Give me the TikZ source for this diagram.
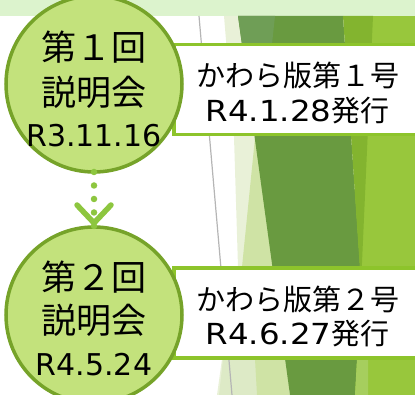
\documentclass[tikz,border=0pt]{standalone}
\usepackage{fontspec}
\setmainfont{Noto Sans CJK JP}
\newfontfamily\latinf{DejaVu Sans}
\usetikzlibrary{calc}
\definecolor{bandc}{HTML}{DCF3CD}
\definecolor{circfill}{HTML}{C3E27C}
\definecolor{circline}{HTML}{76A329}
\definecolor{boxline}{HTML}{8DC42B}
\definecolor{chevc}{HTML}{8DC63F}
\definecolor{bgdark}{HTML}{699A40}
\definecolor{bgdarkl}{HTML}{6F9E56}
\definecolor{bgmed}{HTML}{83B42F}
\definecolor{bglight}{HTML}{98C73C}
\definecolor{bgpale}{HTML}{E9F1D8}
\definecolor{bgpaleb}{HTML}{CFE3A5}
\definecolor{bgpalec}{HTML}{DDEAC6}
\definecolor{bglime}{HTML}{A6CE5E}
\definecolor{grayline}{HTML}{B5B5B5}
\tikzset{
  circbox/.style={circle, draw=circline, fill=circfill, line width=3.5pt, minimum size=176pt, inner sep=0pt, outer sep=0pt},
  issuebox/.style={rectangle, draw=boxline, fill=white, line width=3.5pt, minimum width=247pt, minimum height=90pt, inner sep=0pt, outer sep=0pt},
  bigtxt/.style={font=\fontsize{35}{40}\selectfont, inner sep=0pt, text=black},
  datetxt/.style={inner sep=0pt, text=black},
  boxtxt/.style={font=\fontsize{29}{34}\selectfont, inner sep=0pt, text=black},
  dotline/.style={draw=chevc, line width=6.5pt, line cap=round, dash pattern=on 0pt off 13.5pt},
  chevline/.style={draw=chevc, line width=5.5pt, line cap=round, line join=round}
}
\begin{document}
\begin{tikzpicture}[x=1pt,y=-1pt]
\useasboundingbox (0,0) rectangle (415,395);
% top band
\fill[bandc] (0,0) rectangle (415,16);
% background facets
\fill[bglight] (355,16) rectangle (415,395);
\fill[bgpale] (224,16) -- (262,16) -- (262,395) -- (217,395) -- (222,359) -- (238,267) -- (234,137) -- cycle;
\fill[bgpaleb] (256,128) -- (274,267) -- (242,267) -- cycle;
\fill[bgpalec] (223,359) -- (256,359) -- (258,395) -- (219,395) -- cycle;
\fill[bgpaleb] (255,359) -- (286,359) -- (290,395) -- (257,395) -- cycle;
\fill[bgdark] (238,16) -- (343,16) -- (360,267) -- (357,359) -- (355,395) -- (290,395) -- cycle;
\fill[bgdarkl] (238,16) -- (275,16) -- (272,44) -- (242,44) -- cycle;
\fill[bgmed] (343,16) -- (373,16) -- (361,285) -- cycle;
\fill[bglime] (357,359) -- (368,359) -- (368,395) -- (355,395) -- cycle;
\draw[grayline, line width=1.2pt] (199,16) -- (232,395);
% boxes
\node[issuebox] (b1) at (297.5,89.5) {};
\node[issuebox] (b2) at (297.5,313) {};
\node[boxtxt] (b1a) at ($(b1)+(0,-14)$) {かわら版第１号};
\node[boxtxt] (b1b) at ($(b1)+(0,21)$) {{\latinf\fontsize{29}{34}\selectfont\scalebox{1.12}[1]{R4.1.28}}発行};
\node[boxtxt] (b2a) at ($(b2)+(0,-14)$) {かわら版第２号};
\node[boxtxt] (b2b) at ($(b2)+(0,21)$) {{\latinf\fontsize{29}{34}\selectfont\scalebox{1.12}[1]{R4.6.27}}発行};
% circles
\node[circbox] (c1) at (94,84) {};
\node[circbox] (c2) at (94,315) {};
\draw[dotline] (c1.south) -- (c2.north);
\draw[chevline] ($(c2.north)+(-17,-22)$) -- ($(c2.north)+(0,-4)$) -- ($(c2.north)+(17,-22)$);
\node[bigtxt] (c1a) at ($(c1)+(0,-37)$) {第１回};
\node[bigtxt] (c1b) at ($(c1)+(0,8)$) {説明会};
\node[datetxt] (c1c) at ($(c1)+(0,52)$) {\latinf\fontsize{30}{34}\selectfont R3.11.16};
\node[bigtxt] (c2a) at ($(c2)+(0,-38)$) {第２回};
\node[bigtxt] (c2b) at ($(c2)+(0,5)$) {説明会};
\node[datetxt] (c2c) at ($(c2)+(0,50)$) {\latinf\fontsize{30}{34}\selectfont R4.5.24};
\end{tikzpicture}
\end{document}
